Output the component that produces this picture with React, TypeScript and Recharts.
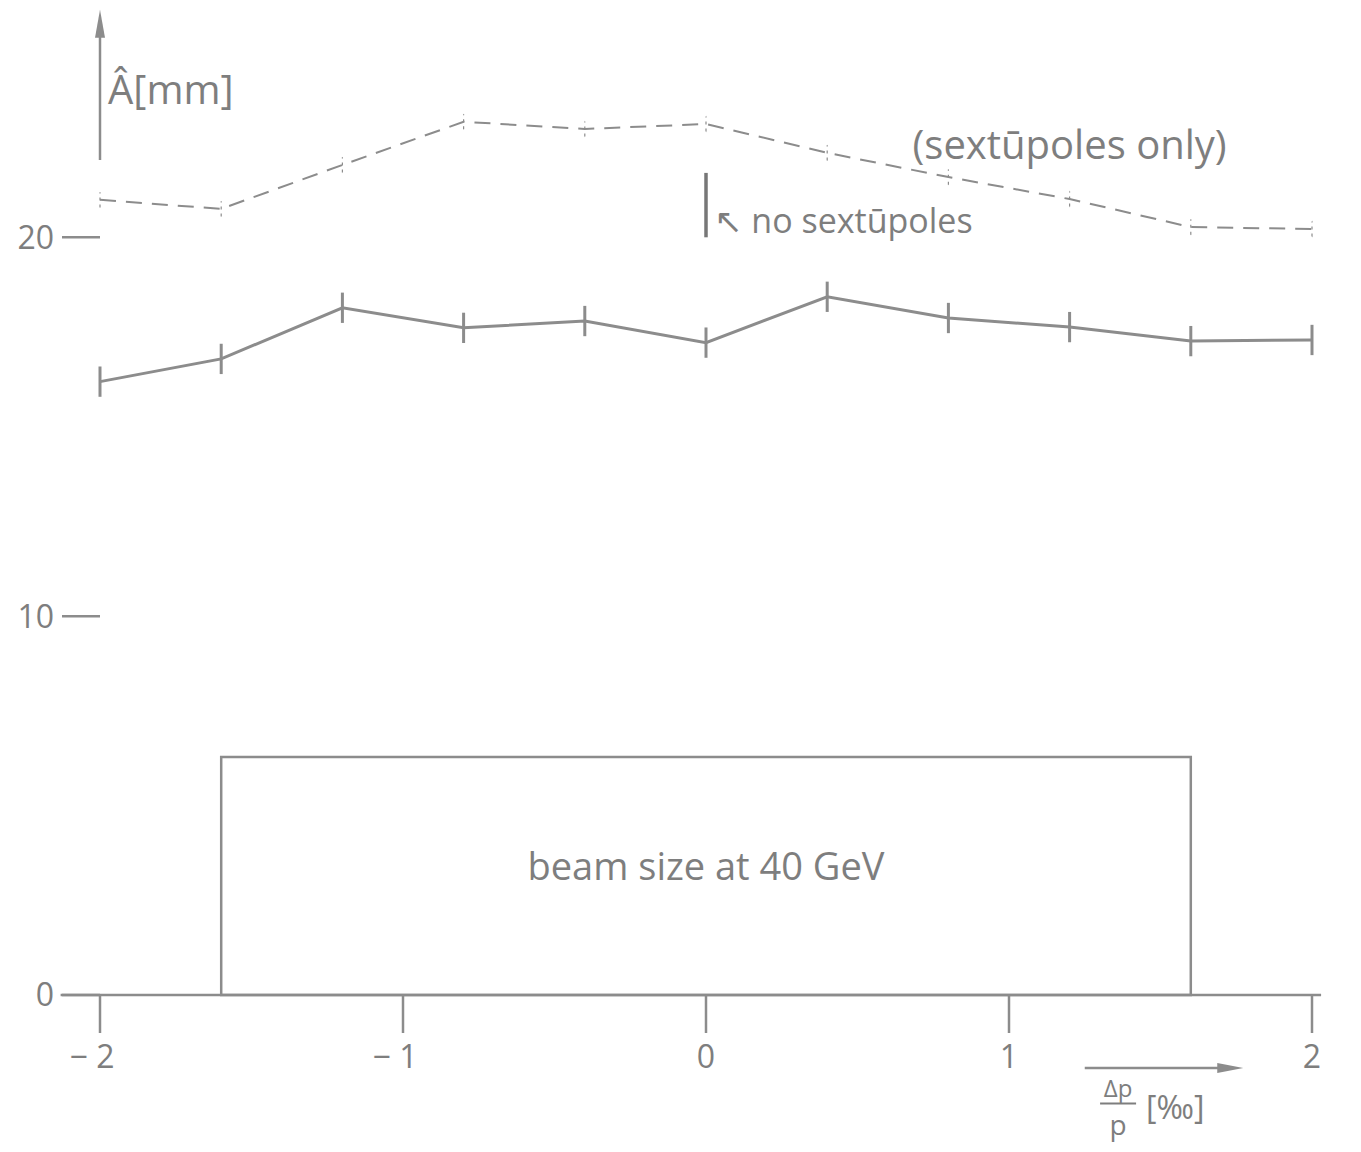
import React from "react";
import {
  ComposedChart,
  Line,
  ErrorBar,
  XAxis,
  YAxis,
  ReferenceLine,
  ReferenceArea,
  ReferenceDot,
} from "recharts";

// momentum deviation Δp/p [‰]
const dpValues = [-2, -1.6, -1.2, -0.8, -0.4, 0, 0.4, 0.8, 1.2, 1.6, 2];
// amplitude Â [mm], with sextupoles (solid) and sextupoles only (dashed)
const ampSolid = [16.19, 16.79, 18.14, 17.61, 17.79, 17.22, 18.43, 17.87, 17.63, 17.26, 17.29];
const ampDashed = [20.99, 20.75, 21.91, 23.05, 22.86, 22.99, 22.23, 21.59, 21.01, 20.27, 20.22];
const errSolid = [0.4, 0.4, 0.4, 0.4, 0.4, 0.4, 0.4, 0.4, 0.4, 0.4, 0.4];
const errDashed = [0.2, 0.2, 0.2, 0.2, 0.2, 0.2, 0.2, 0.2, 0.2, 0.2, 0.2];

const xTicks = [-2, -1, 0, 1, 2];
const yTicks = [0, 10, 20];
const beamRange = [-1.6, 1.6];
const beamSize = 6.28;
const noSextRange = [20.0, 21.7];

const INK = "#8c8c8c";
const TEXT = "#7e7e7e";
const FONT = "'Open Sans', 'DejaVu Sans', sans-serif";

const chartData = dpValues.map((dp, i) => ({
  dp,
  solid: ampSolid[i],
  dashed: ampDashed[i],
  errSolid: errSolid[i],
  errDashed: errDashed[i],
}));

function XTick(props: any) {
  const { x, y, payload } = props;
  const label = payload.value < 0 ? `− ${Math.abs(payload.value)}` : `${payload.value}`;
  return (
    <g>
      <line x1={x} y1={y} x2={x} y2={y + 38} stroke={INK} strokeWidth={2.5} />
      <text x={x - (payload.value < 0 ? 8 : 0)} y={y + 73} textAnchor="middle" fill={TEXT} fontSize={32} fontFamily={FONT}>
        {label}
      </text>
    </g>
  );
}

// small filled arrow head, pointing up or right
function ArrowHead({ cx, cy, dir }: { cx?: number; cy?: number; dir: "up" | "right" }) {
  if (cx == null || cy == null) return null;
  const pts =
    dir === "up"
      ? `${cx},${cy - 4} ${cx - 5},${cy + 24} ${cx + 5},${cy + 24}`
      : `${cx + 4},${cy} ${cx - 22},${cy - 5} ${cx - 22},${cy + 5}`;
  return <polygon points={pts} fill={INK} />;
}

function TextAt(props: any) {
  const { cx, cy, children, size = 34, anchor = "start", dx = 0 } = props;
  if (cx == null || cy == null) return null;
  return (
    <text x={cx + dx} y={cy} dy="0.35em" textAnchor={anchor} fill={TEXT} fontSize={size} fontFamily={FONT}>
      {children}
    </text>
  );
}

function DpLabel({ cx, cy }: { cx?: number; cy?: number }) {
  if (cx == null || cy == null) return null;
  return (
    <g fill={TEXT} fontFamily={FONT}>
      <text x={cx} y={cy} textAnchor="middle" fontSize={24}>Δp</text>
      <line x1={cx - 18} y1={cy + 7} x2={cx + 18} y2={cy + 7} stroke={TEXT} strokeWidth={2} />
      <text x={cx} y={cy + 38} textAnchor="middle" fontSize={28}>p</text>
      <text x={cx + 28} y={cy + 22} fontSize={32}>[‰]</text>
    </g>
  );
}

export default function App() {
  return (
    <div style={{ position: "absolute", left: 0, top: 0, background: "#fff" }}>
      <ComposedChart
        width={1361}
        height={1152}
        data={chartData}
        margin={{ top: 10, right: 49, bottom: 77, left: 0 }}
      >
        <XAxis
          dataKey="dp"
          type="number"
          domain={[-2, 2]}
          ticks={xTicks}
          axisLine={false}
          tickLine={false}
          tickSize={0}
          tickMargin={0}
          height={80}
          tick={<XTick />}
          interval={0}
        />
        <YAxis
          type="number"
          domain={[0, 26]}
          ticks={yTicks}
          width={100}
          axisLine={false}
          tickSize={38}
          tickMargin={8}
          tickLine={{ stroke: INK, strokeWidth: 2.5 }}
          tick={{ fill: TEXT, fontSize: 32, fontFamily: FONT }}
          interval={0}
        />

        {/* x axis line, drawn a bit past both ends */}
        <ReferenceLine
          segment={[{ x: -2.13, y: 0 }, { x: 2.03, y: 0 }]}
          stroke={INK}
          strokeWidth={2.5}
          ifOverflow="visible"
        />
        {/* y axis arrow */}
        <ReferenceLine
          segment={[{ x: -2, y: 22.04 }, { x: -2, y: 25.7 }]}
          stroke={INK}
          strokeWidth={2.5}
          ifOverflow="visible"
        />
        <ReferenceDot x={-2} y={25.9} ifOverflow="visible" shape={<ArrowHead dir="up" />} />
        <ReferenceDot x={-2} y={23.9} ifOverflow="visible" shape={<TextAt size={40} dx={8}>Â[mm]</TextAt>} />

        {/* beam size box */}
        <ReferenceArea
          x1={beamRange[0]}
          x2={beamRange[1]}
          y1={0}
          y2={beamSize}
          fill="none"
          stroke={INK}
          strokeWidth={2.5}
          ifOverflow="visible"
          label={{ value: "beam size at 40 GeV", position: "center", fill: TEXT, fontSize: 38, fontFamily: FONT, dy: -10 }}
        />

        {/* no sextupoles marker */}
        <ReferenceLine
          segment={[{ x: 0, y: noSextRange[0] }, { x: 0, y: noSextRange[1] }]}
          stroke="#777"
          strokeWidth={3.5}
          ifOverflow="visible"
        />
        <ReferenceDot x={0} y={20.42} ifOverflow="visible" shape={<TextAt size={34} dx={8}>↖ no sextūpoles</TextAt>} />
        <ReferenceDot x={1.2} y={22.44} ifOverflow="visible" shape={<TextAt size={40} anchor="middle">(sextūpoles only)</TextAt>} />

        {/* Δp/p arrow */}
        <ReferenceLine
          segment={[{ x: 1.25, y: -1.93 }, { x: 1.72, y: -1.93 }]}
          stroke={INK}
          strokeWidth={2.5}
          ifOverflow="visible"
        />
        <ReferenceDot x={1.76} y={-1.93} ifOverflow="visible" shape={<ArrowHead dir="right" />} />
        <ReferenceDot x={1.36} y={-2.68} ifOverflow="visible" shape={<DpLabel />} />

        <Line
          dataKey="dashed"
          type="linear"
          stroke={INK}
          strokeWidth={2}
          strokeDasharray="16 10"
          dot={false}
          isAnimationActive={false}
        >
          <ErrorBar dataKey="errDashed" direction="y" width={0} stroke={INK} strokeWidth={1.2} strokeDasharray="3 4" isAnimationActive={false} />
        </Line>
        <Line
          dataKey="solid"
          type="linear"
          stroke={INK}
          strokeWidth={3}
          dot={false}
          isAnimationActive={false}
        >
          <ErrorBar dataKey="errSolid" direction="y" width={0} stroke={INK} strokeWidth={3} isAnimationActive={false} />
        </Line>
      </ComposedChart>
    </div>
  );
}
